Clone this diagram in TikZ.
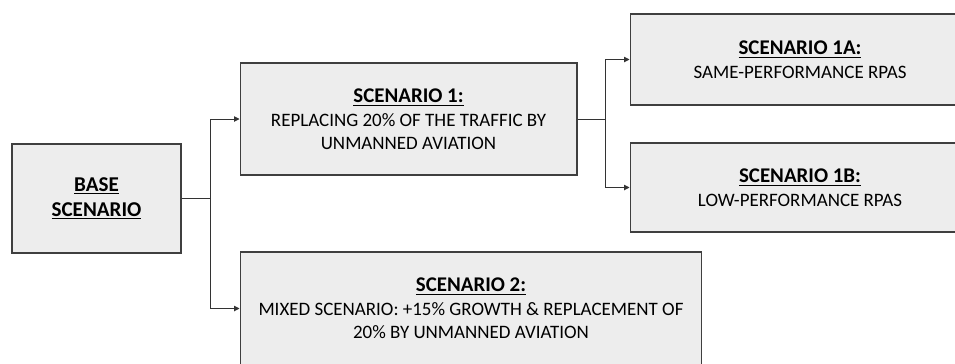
\documentclass[tikz,border=0pt]{standalone}
\usepackage{fontspec}
\setmainfont{Carlito}
\usetikzlibrary{arrows.meta}

\definecolor{boxfill}{HTML}{EDEDED}
\definecolor{boxline}{HTML}{3F3F3F}

\tikzset{
  scenbox/.style={rectangle, draw=boxline, fill=boxfill, line width=0.6pt,
    align=center, inner sep=0pt, font=\fontsize{10.8}{13}\selectfont},
  link/.style={draw=black!80, line width=0.5pt},
  linkarrow/.style={link, -{Triangle[length=1.1mm,width=1.1mm]}}
}
\newcommand{\scentitle}[1]{{\fontsize{11.9}{13}\selectfont\underline{\textbf{#1}}}}

\begin{document}
\begin{tikzpicture}[x=0.02cm, y=-0.02cm]
  \useasboundingbox (0,0) rectangle (955,363);
  \clip (0,0) rectangle (955,363);
  \node[scenbox, minimum width=3.38cm, minimum height=2.18cm,
        font=\fontsize{12}{14.2}\selectfont] (base) at (96.5,198.5)
        {\underline{\textbf{BASE}}\\\underline{\textbf{SCENARIO}}};
  \node[scenbox, minimum width=6.74cm, minimum height=2.24cm] (s1) at (408.5,119)
        {\scentitle{SCENARIO 1:}\\[0.6pt]REPLACING 20\% OF THE TRAFFIC BY\\UNMANNED AVIATION};
  \node[scenbox, minimum width=6.8cm, minimum height=1.82cm] (s1a) at (800,59.5)
        {\scentitle{SCENARIO 1A:}\\[0.6pt]SAME-PERFORMANCE RPAS};
  \node[scenbox, minimum width=6.8cm, minimum height=1.78cm] (s1b) at (800,187.5)
        {\scentitle{SCENARIO 1B:}\\[0.6pt]LOW-PERFORMANCE RPAS};
  \node[scenbox, minimum width=9.24cm, minimum height=2.26cm] (s2) at (471,308.5)
        {\scentitle{SCENARIO 2:}\\[0.6pt]MIXED SCENARIO: +15\% GROWTH \& REPLACEMENT OF\\20\% BY UNMANNED AVIATION};
  \coordinate (split) at (210,198.5);
  \coordinate (split1) at (605,119);
  \draw[link] (base.east) -- (split);
  \draw[linkarrow] (split) |- (s1.west);
  \draw[linkarrow] (split) |- (s2.west);
  \draw[link] (s1.east) -- (split1);
  \draw[linkarrow] (split1) |- (s1a.west);
  \draw[linkarrow] (split1) |- (s1b.west);
\end{tikzpicture}
\end{document}
